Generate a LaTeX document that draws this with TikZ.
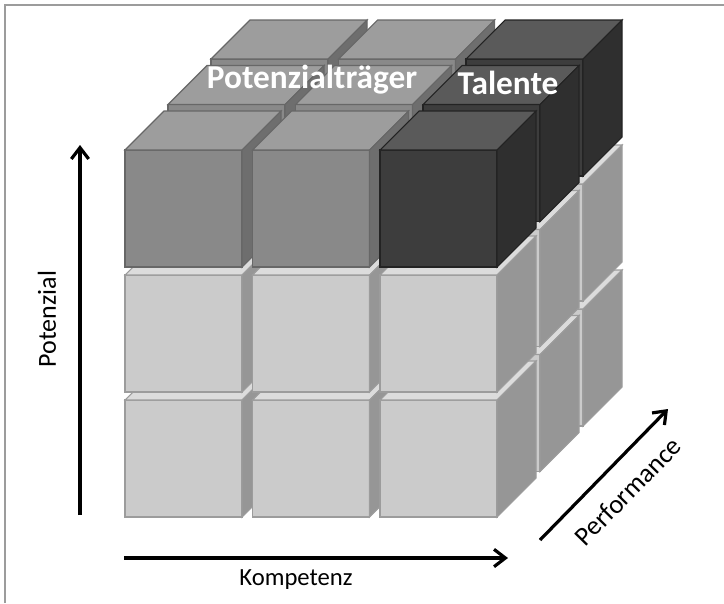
\documentclass[tikz,border=0pt]{standalone}
\usepackage{fontspec}
\setmainfont{Carlito}
\usetikzlibrary{arrows.meta}

\definecolor{lightF}{HTML}{CBCBCB}
\definecolor{lightT}{HTML}{DCDCDC}
\definecolor{lightS}{HTML}{969696}
\definecolor{lightL}{HTML}{9C9C9C}
\definecolor{midF}{HTML}{898989}
\definecolor{midT}{HTML}{9D9D9D}
\definecolor{midS}{HTML}{6E6E6E}
\definecolor{midL}{HTML}{676767}
\definecolor{darkF}{HTML}{3D3D3D}
\definecolor{darkT}{HTML}{5A5A5A}
\definecolor{darkS}{HTML}{2F2F2F}
\definecolor{darkL}{HTML}{232323}

\tikzset{
  lightfront/.style={fill=lightF,draw=lightL,line width=0.8pt},
  lighttop/.style={fill=lightT,draw=lightL,line width=0.8pt},
  lightside/.style={fill=lightS,draw=lightL,line width=0.8pt},
  midfront/.style={fill=midF,draw=midL,line width=0.8pt},
  midtop/.style={fill=midT,draw=midL,line width=0.8pt},
  midside/.style={fill=midS,draw=midL,line width=0.8pt},
  darkfront/.style={fill=darkF,draw=darkL,line width=0.8pt},
  darktop/.style={fill=darkT,draw=darkL,line width=0.8pt},
  darkside/.style={fill=darkS,draw=darkL,line width=0.8pt},
  axis/.style={line width=2.4pt,-{Straight Barb[length=8.5pt,width=13pt]}},
  axislabel/.style={font=\fontsize{19.5}{22}\selectfont},
  grouplabel/.style={text=white,font=\bfseries\fontsize{25}{29}\selectfont}
}

% one block: column, row, layer, shade
\newcommand{\drawblock}[4]{%
  \begin{scope}[shift={({125+127.5*#1+43*#3},{400-125*#2-45.5*#3})}]
    \filldraw[#4front] (0,0) rectangle (117,117);
    \filldraw[#4top] (0,0) -- (39,-39) -- (156,-39) -- (117,0) -- cycle;
    \filldraw[#4side] (117,0) -- (156,-39) -- (156,78) -- (117,117) -- cycle;
  \end{scope}}

\begin{document}
\begin{tikzpicture}[x=0.75pt,y=-0.75pt]
  \useasboundingbox (0,0) rectangle (724,603);

  % frame
  \draw[color=lightL,line width=1.5pt] (5,603) -- (5,5) -- (724,5);

  % blocks, back layer first
  \foreach \ll in {2,1,0}
  {
    \foreach \rr in {0,1}
      \foreach \cc in {0,1,2}
        \drawblock{\cc}{\rr}{\ll}{light};
    \foreach \cc in {0,1}
      \drawblock{\cc}{2}{\ll}{mid};
    \drawblock{2}{2}{\ll}{dark};
  }

  % group labels
  \node[grouplabel] (potenzialtraeger) at (312,80) {Potenzialträger};
  \node[grouplabel] (talente) at (508,83) {Talente};

  % axes
  \coordinate (potS) at (80,515);
  \coordinate (potE) at (80,145);
  \coordinate (komS) at (124,558);
  \coordinate (komE) at (508,558);
  \coordinate (perS) at (540,540);
  \coordinate (perE) at (668,409);
  \draw[axis] (potS) -- (potE);
  \draw[axis] (komS) -- (komE);
  \draw[axis] (perS) -- (perE);

  % annotate
  \node[axislabel,rotate=90] (potenzial) at (47,319) {Potenzial};
  \node[axislabel,font=\fontsize{18.5}{21}\selectfont] (kompetenz) at (296,580) {Kompetenz};
  \node[axislabel,rotate=45.6,font=\fontsize{20}{22}\selectfont] (performance) at (628,491) {Performance};

\end{tikzpicture}
\end{document}
